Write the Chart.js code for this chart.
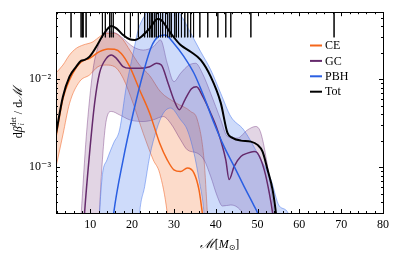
<!DOCTYPE html>
<html>
<head>
<meta charset="utf-8">
<script src="https://cdn.jsdelivr.net/npm/chart.js@4/dist/chart.umd.min.js"></script>
<style>
  body { margin: 0; background: #fff; }
  canvas { display: block; }
</style>
</head>
<body>
<canvas id="chart" width="395" height="270"></canvas>
<script>
// chirp mass values for the rug along the top
const rugMasses = [5.4, 7.8, 8.1, 8.3, 9.0, 12.9, 13.6, 14.6, 15.0, 15.5, 18.2, 19.6, 21.5, 23.0, 23.7,
    24.2, 24.6, 24.9, 25.4, 25.8, 26.3, 26.8, 27.3, 28.0, 28.5, 29.0, 29.4, 30.2, 30.6, 31.1, 31.8,
    32.6, 33.3, 34.0, 34.7, 36.2, 38.1, 40.5, 42.4, 43.6, 48.4, 68.3];

// [M, dbeta/dM] pairs
const ceMid = [[1.8, 2.2e-3], [3.45, 6.0e-3], [5.03, 9.8e-3], [6.6, 1.35e-2], [7.84, 1.58e-2], [9.83, 1.73e-2],
    [12.2, 2.06e-2], [14.25, 2.21e-2], [15.8, 2.19e-2], [17.4, 1.97e-2], [19.43, 1.39e-2], [21.8, 7.55e-3],
    [24.2, 4.11e-3], [26.6, 1.87e-3], [28.4, 1.21e-3], [30.0, 9.3e-4], [31.6, 8.9e-4], [33.2, 9.75e-4],
    [34.8, 8.55e-4], [36.0, 5.5e-4], [36.8, 3.0e-4], [37.3, 2e-4]];
const ceHi = [[1.8, 1.18e-2], [3.45, 1.45e-2], [5.03, 1.89e-2], [6.64, 2.25e-2], [8.25, 2.45e-2], [10.65, 2.67e-2],
    [12.2, 3.05e-2], [13.8, 3.33e-2], [15.8, 3.33e-2], [17.85, 2.8e-2], [19.43, 2.15e-2], [21.8, 1.45e-2],
    [24.2, 1.1e-2], [26.8, 7.2e-3], [30.4, 5.4e-3], [34.0, 4.3e-3], [35.6, 3.45e-3], [37.2, 1.21e-3],
    [38.0, 3e-4], [38.4, 1.5e-4]];
const ceLo = [[1.8, 1.0e-3], [3.45, 2.33e-3], [5.03, 5.3e-3], [7.43, 9.4e-3], [9.83, 1.12e-2], [11.85, 1.39e-2],
    [13.8, 1.45e-2], [15.8, 1.39e-2], [17.85, 1.03e-2], [20.25, 5.3e-3], [22.65, 2.43e-3], [25.05, 1.21e-3],
    [26.6, 8.5e-4], [28.4, 3e-4], [29.0, 1.5e-4], [38.4, 1.5e-4]];

const gcMid = [[8.4, 2e-4], [8.63, 3.0e-4], [9.83, 1.44e-3], [11.03, 5.3e-3], [12.2, 1.17e-2], [13.84, 1.73e-2],
    [15.04, 1.89e-2], [16.24, 1.73e-2], [17.85, 1.39e-2], [19.43, 1.33e-2], [21.8, 1.33e-2], [24.2, 1.39e-2],
    [25.84, 1.52e-2], [27.0, 1.45e-2], [28.6, 9e-3], [30.2, 5.5e-3], [31.3, 4.5e-3], [32.6, 5.8e-3],
    [34.2, 7.8e-3], [35.4, 8.2e-3], [36.8, 6.5e-3], [38.8, 4.1e-3], [40.4, 2.65e-3], [42.4, 1.21e-3],
    [43.2, 7.2e-4], [44.4, 1.02e-3], [46.0, 1.32e-3], [47.6, 1.44e-3], [49.2, 1.5e-3], [50.0, 1.44e-3],
    [51.6, 9.3e-4], [52.8, 5.1e-4], [53.6, 3e-4], [54.0, 2e-4]];
const gcHi = [[7.6, 2e-4], [7.84, 3e-4], [9.04, 2.23e-3], [10.65, 1.28e-2], [11.85, 2.34e-2], [13.05, 3.19e-2],
    [14.63, 3.47e-2], [16.24, 3.33e-2], [17.85, 2.92e-2], [20.25, 2.34e-2], [22.65, 2.15e-2], [25.05, 2.34e-2],
    [26.8, 2.8e-2], [28.4, 1.52e-2], [30.0, 9.4e-3], [31.6, 1.17e-2], [33.6, 1.45e-2], [35.2, 1.52e-2],
    [36.8, 1.17e-2], [38.8, 6.9e-3], [41.2, 3.45e-3], [42.8, 2.23e-3], [45.2, 2.14e-3], [47.6, 2.65e-3],
    [49.6, 2.9e-3], [50.8, 2.43e-3], [52.4, 1.02e-3], [53.6, 4.2e-4], [54.0, 3e-4], [54.4, 2e-4]];
const gcLo = [[7.6, 1.5e-4], [12.0, 1.5e-4], [12.2, 3e-4], [12.9, 1.21e-3], [13.84, 3.45e-3], [15.04, 4.3e-3],
    [17.0, 3.93e-3], [19.43, 3.45e-3], [22.65, 3.3e-3], [25.05, 3.45e-3], [27.45, 3.76e-3], [29.2, 3.16e-3],
    [31.6, 2.04e-3], [33.2, 1.57e-3], [35.6, 1.44e-3], [37.2, 1.21e-3], [38.8, 7.8e-4], [40.4, 4.6e-4],
    [41.6, 3.6e-4], [43.6, 3.7e-4], [46.0, 3.2e-4], [47.2, 2.5e-4], [54.4, 1.5e-4]];

const pbhMid = [[15.2, 2e-4], [15.6, 3e-4], [17.85, 1.21e-3], [20.25, 4.1e-3], [22.65, 1.17e-2], [24.6, 2.34e-2],
    [26.25, 3.05e-2], [27.85, 3.19e-2], [30.0, 2.56e-2], [32.4, 1.81e-2], [34.8, 1.17e-2], [37.2, 6.3e-3],
    [39.6, 3.16e-3], [42.0, 1.71e-3], [44.4, 1.02e-3], [46.8, 6.0e-4], [49.2, 3.6e-4], [50.0, 3e-4], [50.5, 2.5e-4]];
const pbhHi = [[12.0, 2e-4], [12.2, 3e-4], [12.9, 8.2e-4], [14.0, 1.21e-3], [15.6, 1.89e-3], [17.0, 2.65e-3],
    [18.6, 8.2e-3], [20.25, 1.97e-2], [21.45, 3.63e-2], [22.8, 5.1e-2], [24.4, 6.4e-2], [26.8, 7.2e-2],
    [29.2, 7.0e-2], [31.6, 5.4e-2], [34.0, 3.36e-2], [36.4, 2.06e-2], [38.8, 1.28e-2], [41.2, 6.9e-3],
    [43.6, 3.76e-3], [46.7, 2.65e-3], [50.8, 1.21e-3], [53.2, 7.2e-4], [55.2, 3.6e-4], [57.3, 3e-4], [58.0, 2e-4]];
const pbhLo = [[12.0, 1.5e-4], [21.4, 1.5e-4], [21.8, 3e-4], [23.0, 6e-4], [24.2, 1.32e-3], [25.84, 2.65e-3],
    [27.45, 4.1e-3], [29.2, 4.7e-3], [31.6, 3.45e-3], [33.2, 2.65e-3], [34.8, 1.44e-3], [36.0, 7.2e-4],
    [37.2, 3e-4], [37.6, 1.5e-4], [58.0, 1.5e-4]];

const totMid = [[1.8, 2.4e-3], [3.45, 6.33e-3], [5.03, 1.07e-2], [6.64, 1.39e-2], [7.84, 1.63e-2], [8.63, 1.66e-2],
    [9.83, 1.81e-2], [11.44, 2.35e-2], [13.05, 3.19e-2], [14.63, 3.96e-2], [15.04, 4.04e-2], [16.24, 3.8e-2],
    [17.85, 3.19e-2], [19.43, 2.85e-2], [20.6, 2.8e-2], [22.2, 3.05e-2], [24.2, 3.8e-2], [26.1, 4.84e-2],
    [27.0, 4.7e-2], [29.2, 3.36e-2], [31.6, 2.45e-2], [34.0, 2.06e-2], [36.4, 1.66e-2], [38.8, 1.07e-2],
    [41.2, 5.38e-3], [42.8, 2.45e-3], [44.0, 2.15e-3], [46.0, 2.0e-3], [48.4, 1.95e-3], [50.0, 1.79e-3],
    [51.2, 1.5e-3], [52.4, 9.3e-4], [53.6, 5.5e-4], [54.4, 3.0e-4], [54.8, 2e-4]];

const seriesNames = ['CE', 'GC', 'PBH', 'Tot'];
const xTickValues = [10, 20, 30, 40, 50, 60, 70, 80];
const yTickValues = [1e-3, 1e-2];
const yTickLabels = ['10\u207B\u00B3', '10\u207B\u00B2'];

const X_MIN = 1.8, X_MAX = 80, Y_MIN = 3e-4, Y_MAX = 5.8e-2;
const RUG_BOTTOM = 3.0e-2;

const toXY = (arr) => arr.map(([x, y]) => ({x, y}));
const SERIF = '"Liberation Serif", "DejaVu Serif", serif';

const colors = {
    CE: {line: '#f4661b', fill: 'rgba(245,115,50,0.26)', edge: 'rgba(242,110,55,0.75)'},
    GC: {line: '#652a6c', fill: 'rgba(110,45,120,0.2)', edge: 'rgba(110,45,120,0.5)'},
    PBH: {line: '#2a5fe3', fill: 'rgba(60,110,235,0.25)', edge: 'rgba(60,110,235,0.6)'},
    Tot: {line: '#000000'}
};

function band(data, c, order, fill) {
    return {
        data: toXY(data), borderColor: c.edge, borderWidth: 0.8, backgroundColor: c.fill,
        fill: fill, order: order, pointRadius: 0, cubicInterpolationMode: 'monotone'
    };
}
function mid(data, color, order, width) {
    return {
        data: toXY(data), borderColor: color, borderWidth: width, fill: false,
        order: order, pointRadius: 0, cubicInterpolationMode: 'monotone'
    };
}

const rugData = [];
rugMasses.forEach((m) => {
    rugData.push({x: m, y: 1}, {x: m, y: RUG_BOTTOM}, {x: m, y: null});
});

const decor = {
    id: 'decor',
    afterDraw(chart) {
        const ctx = chart.ctx;
        const {left, right, top, bottom} = chart.chartArea;
        const xs = chart.scales.x, ys = chart.scales.y;
        ctx.save();
        ctx.strokeStyle = '#000';
        ctx.lineWidth = 1;
        ctx.strokeRect(Math.round(left) + 0.5, Math.round(top) + 0.5,
            Math.round(right - left), Math.round(bottom - top));
        ctx.beginPath();
        for (let v = 2; v <= X_MAX; v += 2) {
            const px = Math.round(xs.getPixelForValue(v)) + 0.5;
            const len = v % 10 === 0 ? 4 : 2;
            ctx.moveTo(px, bottom); ctx.lineTo(px, bottom - len);
            ctx.moveTo(px, top); ctx.lineTo(px, top + len);
        }
        for (let e = -4; e <= -1; e++) {
            for (let k = 1; k <= 9; k++) {
                const v = k * Math.pow(10, e);
                if (v < Y_MIN || v > Y_MAX) continue;
                const py = Math.round(ys.getPixelForValue(v)) + 0.5;
                const len = k === 1 ? 4 : 2;
                ctx.moveTo(left, py); ctx.lineTo(left + len, py);
                ctx.moveTo(right, py); ctx.lineTo(right - len, py);
            }
        }
        ctx.stroke();

        // legend
        ctx.font = '12px ' + SERIF;
        ctx.textBaseline = 'middle';
        ctx.textAlign = 'left';
        seriesNames.forEach((name, i) => {
            const y = 45 + i * 15.4;
            ctx.strokeStyle = colors[name].line;
            ctx.lineWidth = 2;
            ctx.beginPath();
            ctx.moveTo(310, y + 0.5); ctx.lineTo(322, y + 0.5);
            ctx.stroke();
            ctx.fillStyle = '#000';
            ctx.fillText(name, 325, y + 1);
        });

        // x title: M[M_sun]
        ctx.fillStyle = '#000';
        const cx = (left + right) / 2, ty = 245;
        const parts = [
            {t: '\u2133', f: 'italic 13px ' + SERIF, dy: 0},
            {t: '[', f: '12px ' + SERIF, dy: 0},
            {t: 'M', f: 'italic 12px ' + SERIF, dy: 0},
            {t: '\u2299', f: '8px "DejaVu Sans"', dy: 3},
            {t: ']', f: '12px ' + SERIF, dy: 0}
        ];
        let w = 0;
        parts.forEach((p) => { ctx.font = p.f; p.w = ctx.measureText(p.t).width; w += p.w; });
        let x = cx - w / 2;
        parts.forEach((p) => { ctx.font = p.f; ctx.fillText(p.t, x, ty + p.dy); x += p.w; });

        // y title: d beta_i^det / dM
        ctx.translate(19, (top + bottom) / 2);
        ctx.rotate(-Math.PI / 2);
        const yp = [
            {t: 'd', f: '12px ' + SERIF, dy: 0},
            {t: '\u03B2', f: 'italic 12px ' + SERIF, dy: 0},
            {t: 'det', f: '7.5px ' + SERIF, dy: -5, stackW: true},
            {t: 'i', f: 'italic 7.5px ' + SERIF, dy: 3, back: true},
            {t: ' / d', f: '12px ' + SERIF, dy: 0},
            {t: '\u2133', f: 'italic 13px ' + SERIF, dy: 0}
        ];
        w = 0;
        yp.forEach((p) => { ctx.font = p.f; p.w = ctx.measureText(p.t).width; if (!p.back) w += p.w; });
        x = -w / 2;
        let supStart = 0, supW = 0;
        yp.forEach((p) => {
            ctx.font = p.f;
            if (p.stackW) { supStart = x; supW = p.w; ctx.fillText(p.t, x, p.dy); x += p.w; return; }
            if (p.back) { ctx.fillText(p.t, supStart + 1, p.dy); return; }
            ctx.fillText(p.t, x, p.dy);
            x += p.w;
        });
        ctx.restore();
    }
};

const ctx = document.getElementById('chart').getContext('2d');
new Chart(ctx, {
    type: 'line',
    data: {
        datasets: [
            band(ceHi, colors.CE, 20, '+1'),
            band(ceLo, colors.CE, 20, false),
            band(gcHi, colors.GC, 19, '+1'),
            band(gcLo, colors.GC, 19, false),
            band(pbhHi, colors.PBH, 18, '+1'),
            band(pbhLo, colors.PBH, 18, false),
            mid(ceMid, colors.CE.line, 4, 1.5),
            mid(gcMid, colors.GC.line, 3, 1.5),
            mid(pbhMid, colors.PBH.line, 2, 1.5),
            mid(totMid, colors.Tot.line, 1, 2),
            {
                data: rugData, borderColor: 'rgba(0,0,0,0.75)', borderWidth: 1, fill: false,
                order: 0, pointRadius: 0, tension: 0, spanGaps: false
            }
        ]
    },
    options: {
        responsive: false,
        animation: false,
        events: [],
        layout: {padding: {left: 0, top: 12, right: 12, bottom: 0}},
        plugins: {legend: {display: false}, tooltip: {enabled: false}},
        scales: {
            x: {
                type: 'linear', min: X_MIN, max: X_MAX,
                grid: {display: false, drawTicks: false},
                border: {display: false},
                afterBuildTicks: (s) => { s.ticks = xTickValues.map((v) => ({value: v})); },
                afterFit: (s) => { s.height = 57; },
                ticks: {padding: 5, color: '#000', font: {family: SERIF, size: 12}, maxRotation: 0}
            },
            y: {
                type: 'logarithmic', min: Y_MIN, max: Y_MAX,
                grid: {display: false, drawTicks: false},
                border: {display: false},
                afterBuildTicks: (s) => { s.ticks = yTickValues.map((v) => ({value: v})); },
                afterFit: (s) => { s.width = 56; },
                ticks: {
                    padding: 5, color: '#000', font: {family: SERIF, size: 12},
                    callback: (v) => yTickLabels[yTickValues.indexOf(v)]
                }
            }
        }
    },
    plugins: [decor]
});
</script>
</body>
</html>
